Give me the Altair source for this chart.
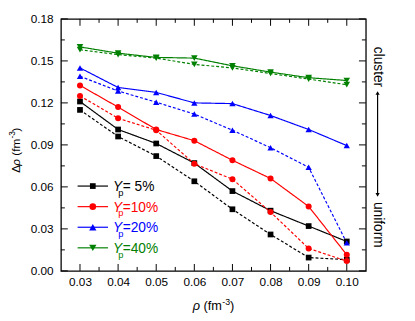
import altair as alt
import pandas as pd

rho = [0.03, 0.04, 0.05, 0.06, 0.07, 0.08, 0.09, 0.10]
black_solid = [0.121, 0.101, 0.091, 0.077, 0.057, 0.043, 0.032, 0.021]
black_dashed = [0.115, 0.096, 0.082, 0.064, 0.044, 0.026, 0.0095, 0.008]
red_solid = [0.1325, 0.117, 0.101, 0.093, 0.079, 0.066, 0.046, 0.0115]
red_dashed = [0.125, 0.109, 0.1005, 0.0765, 0.0655, 0.042, 0.016, 0.007]
blue_solid = [0.145, 0.131, 0.1275, 0.120, 0.1195, 0.111, 0.101, 0.0895]
blue_dashed = [0.139, 0.1285, 0.1205, 0.112, 0.1005, 0.088, 0.074, 0.020]
green_solid = [0.160, 0.1555, 0.1525, 0.152, 0.1465, 0.142, 0.138, 0.136]
green_dashed = [0.158, 0.1545, 0.152, 0.1475, 0.145, 0.141, 0.137, 0.133]

series_names = ["5%", "10%", "20%", "40%"]
legend_labels = ["= 5%", "=10%", "=20%", "=40%"]
colors = ["#000000", "#FF0000", "#0000FF", "#008000"]
shapes = ["square", "circle", "triangle-up", "triangle-down"]
sizes = [34, 45, 55, 55]

x_major = [0.03, 0.04, 0.05, 0.06, 0.07, 0.08, 0.09, 0.10]
x_minor = [0.035, 0.045, 0.055, 0.065, 0.075, 0.085, 0.095]
y_major = [0.0, 0.03, 0.06, 0.09, 0.12, 0.15, 0.18]
y_minor = [0.015, 0.045, 0.075, 0.105, 0.135, 0.165]

FONT = "Liberation Sans"
W, H = 311, 257

rows = []
vals = {
    ("5%", "solid"): black_solid, ("5%", "dashed"): black_dashed,
    ("10%", "solid"): red_solid, ("10%", "dashed"): red_dashed,
    ("20%", "solid"): blue_solid, ("20%", "dashed"): blue_dashed,
    ("40%", "solid"): green_solid, ("40%", "dashed"): green_dashed,
}
for (s, st), v in vals.items():
    for r, d in zip(rho, v):
        rows.append({"rho": r, "d": d, "series": s, "style": st, "key": s + st})
df = pd.DataFrame(rows)

xs = alt.Scale(domain=[0.025, 0.105], nice=False, zero=False)
ys = alt.Scale(domain=[0.0, 0.18], nice=False, zero=False)
cs = alt.Scale(domain=series_names, range=colors)
ss = alt.Scale(domain=series_names, range=shapes)
szs = alt.Scale(domain=series_names, range=sizes)
ds = alt.Scale(domain=["solid", "dashed"], range=[[1, 0], [3, 2]])

axX = alt.Axis(values=x_major, format=".2f", ticks=False, domain=False, grid=False, title=None,
               labelFont=FONT, labelFontSize=12, labelColor="black", labelPadding=6)
axY = alt.Axis(values=y_major, format=".2f", ticks=False, domain=False, grid=False, title=None,
               labelFont=FONT, labelFontSize=12, labelColor="black", labelPadding=8)

lines = alt.Chart(df).mark_line(strokeWidth=1.2).encode(
    x=alt.X("rho:Q", scale=xs, axis=axX),
    y=alt.Y("d:Q", scale=ys, axis=axY),
    color=alt.Color("series:N", scale=cs, legend=None),
    strokeDash=alt.StrokeDash("style:N", scale=ds, legend=None),
    detail="key:N",
)
points = alt.Chart(df).mark_point(filled=True, opacity=1).encode(
    x=alt.X("rho:Q", scale=xs, axis=axX),
    y=alt.Y("d:Q", scale=ys, axis=axY),
    color=alt.Color("series:N", scale=cs, legend=None),
    shape=alt.Shape("series:N", scale=ss, legend=None),
    size=alt.Size("series:N", scale=szs, legend=None),
)

layers = [lines, points]

# inward ticks on all four sides
def xticks(vals_, length):
    d = pd.DataFrame({"rho": vals_})
    b = alt.Chart(d).mark_rule(color="black", strokeWidth=1).encode(
        x=alt.X("rho:Q", scale=xs, axis=axX), y=alt.value(H), y2=alt.value(H - length))
    t = alt.Chart(d).mark_rule(color="black", strokeWidth=1).encode(
        x=alt.X("rho:Q", scale=xs, axis=axX), y=alt.value(0), y2=alt.value(length))
    return [b, t]

def yticks(vals_, length):
    d = pd.DataFrame({"d": vals_})
    l = alt.Chart(d).mark_rule(color="black", strokeWidth=1).encode(
        y=alt.Y("d:Q", scale=ys, axis=axY), x=alt.value(0), x2=alt.value(length))
    r = alt.Chart(d).mark_rule(color="black", strokeWidth=1).encode(
        y=alt.Y("d:Q", scale=ys, axis=axY), x=alt.value(W), x2=alt.value(W - length))
    return [l, r]

layers += xticks(x_major, 7) + xticks(x_minor, 4) + yticks(y_major, 7) + yticks(y_minor, 4)

def txt(s, x, y, size=12, color="black", italic=False, angle=0, align="left", baseline="alphabetic"):
    kw = dict(font=FONT, fontSize=size, color=color, align=align, baseline=baseline)
    if italic:
        kw["fontStyle"] = "italic"
    if angle:
        kw["angle"] = angle
    return alt.Chart(pd.DataFrame({"t": [s]})).mark_text(**kw).encode(
        text="t:N", x=alt.value(x), y=alt.value(y))

# legend
leg_y = [170.5, 191.5, 212.5, 233.5]
for i, s in enumerate(series_names):
    y0 = leg_y[i]
    c = colors[i]
    layers.append(alt.Chart(pd.DataFrame({"t": [s]})).mark_rule(color=c, strokeWidth=1.2).encode(
        x=alt.value(17), x2=alt.value(48), y=alt.value(y0)))
    layers.append(alt.Chart(pd.DataFrame({"t": [s]})).mark_point(
        filled=True, opacity=1, color=c, shape=shapes[i], size=sizes[i]).encode(
        x=alt.value(32.5), y=alt.value(y0)))
    layers.append(txt("Y", 53, y0 + 5, size=14, color=c, italic=True))
    layers.append(txt("p", 58.5, y0 + 10, size=9.5, color=c))
    layers.append(txt(legend_labels[i], 63, y0 + 5, size=14, color=c))

# axis titles
tx = 134.5
ty = 297
layers.append(txt("ρ", tx, ty, size=13, italic=True))
layers.append(txt("(fm", tx + 11, ty, size=13))
layers.append(txt("-3", tx + 30, ty - 5, size=9))
layers.append(txt(")", tx + 38, ty, size=13))

yx = -42
y_start = 157
layers.append(txt("Δ", yx, y_start, size=12, angle=270))
layers.append(txt("ρ", yx, y_start - 7.3, size=12, italic=True, angle=270))
layers.append(txt("(fm", yx, y_start - 17.5, size=12, angle=270))
layers.append(txt("-3", yx - 5, y_start - 35, size=8.5, angle=270))
layers.append(txt(")", yx, y_start - 42, size=12, angle=270))

# right-side annotation
layers.append(txt("cluster", 323, 49, size=14, angle=90, align="center", baseline="middle"))
layers.append(txt("uniform", 323, 210, size=14, angle=90, align="center", baseline="middle"))
layers.append(alt.Chart(pd.DataFrame({"t": ["a"]})).mark_rule(color="black", strokeWidth=1.2).encode(
    x=alt.value(323), y=alt.value(76), y2=alt.value(179)))
layers.append(alt.Chart(pd.DataFrame({"t": ["a"]})).mark_point(
    filled=True, opacity=1, color="black", shape="triangle-up", size=18).encode(
    x=alt.value(323), y=alt.value(75.5)))
layers.append(alt.Chart(pd.DataFrame({"t": ["a"]})).mark_point(
    filled=True, opacity=1, color="black", shape="triangle-down", size=18).encode(
    x=alt.value(323), y=alt.value(179.5)))

chart = alt.layer(*layers).properties(
    width=W, height=H,
    autosize=alt.AutoSizeParams(type="none"),
    padding={"left": 54, "top": 8, "right": 42, "bottom": 48},
).configure_view(stroke="black", strokeWidth=1.3)

chart.save("out.html", embed_options={"renderer": "svg", "actions": False})
